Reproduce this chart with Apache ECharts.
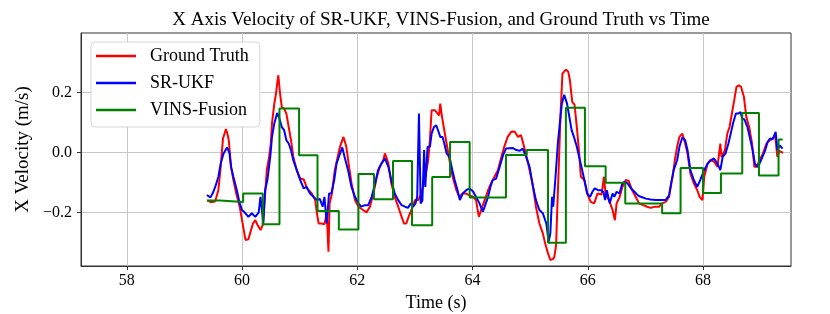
<!DOCTYPE html>
<html>
<head>
<meta charset="utf-8">
<script src="https://cdn.jsdelivr.net/npm/echarts@6/dist/echarts.min.js"></script>
<style>html,body{margin:0;padding:0;background:#fff;}#c{width:830px;height:314px;}</style>
</head>
<body>
<div id="c"></div>
<script>
const xTicks = [58, 60, 62, 64, 66, 68];
const yTicks = [-0.2, 0.0, 0.2];

const gtTime = [59.40,59.45,59.50,59.535,59.59,59.63,59.67,59.70,59.72,59.75,59.77,59.81,59.85,59.90,59.96,60.00,60.06,60.11,60.14,60.19,60.23,60.27,60.32,60.36,60.385,60.41,60.43,60.47,60.50,60.52,60.56,60.59,60.61,60.63,60.66,60.69,60.73,60.77,60.81,60.85,60.89,60.95,61.01,61.07,61.13,61.21,61.27,61.30,61.33,61.38,61.43,61.47,61.50,61.52,61.56,61.61,61.66,61.70,61.76,61.81,61.85,61.90,61.96,62.02,62.10,62.16,62.22,62.28,62.34,62.39,62.45,62.48,62.54,62.59,62.65,62.71,62.77,62.81,62.85,62.89,62.94,63.00,63.06,63.11,63.17,63.23,63.26,63.29,63.35,63.37,63.42,63.44,63.47,63.50,63.54,63.59,63.63,63.67,63.72,63.77,63.83,63.89,63.95,64.01,64.06,64.11,64.15,64.21,64.27,64.32,64.38,64.44,64.50,64.55,64.61,64.67,64.73,64.79,64.84,64.88,64.94,64.99,65.05,65.10,65.16,65.22,65.26,65.31,65.35,65.40,65.42,65.45,65.47,65.50,65.53,65.56,65.62,65.66,65.69,65.73,65.77,65.81,65.85,65.88,65.94,65.99,66.05,66.11,66.17,66.24,66.28,66.31,66.37,66.43,66.47,66.50,66.55,66.60,66.66,66.71,66.77,66.83,66.89,66.95,67.03,67.09,67.16,67.24,67.29,67.35,67.41,67.45,67.48,67.51,67.55,67.59,67.64,67.69,67.73,67.78,67.84,67.90,67.94,67.99,68.02,68.08,68.13,68.19,68.25,68.30,68.32,68.38,68.42,68.46,68.51,68.54,68.58,68.62,68.66,68.71,68.75,68.80,68.85,68.89,68.93,68.98,69.04,69.10,69.16,69.20,69.25,69.29,69.32,69.39];
const gtVel = [-0.160,-0.165,-0.165,-0.163,-0.125,-0.048,0.047,0.065,0.078,0.060,0.041,-0.048,-0.092,-0.137,-0.181,-0.226,-0.292,-0.290,-0.270,-0.237,-0.226,-0.242,-0.259,-0.242,-0.180,-0.115,-0.059,-0.015,0.030,0.097,0.163,0.197,0.230,0.258,0.197,0.152,0.147,0.130,0.085,0.041,-0.015,-0.059,-0.087,-0.090,-0.120,-0.137,-0.159,-0.203,-0.237,-0.237,-0.240,-0.203,-0.331,-0.170,-0.137,-0.059,-0.015,0.019,0.052,0.019,-0.037,-0.103,-0.159,-0.181,-0.192,-0.200,-0.181,-0.137,-0.081,-0.048,-0.026,-0.003,-0.037,-0.103,-0.148,-0.181,-0.215,-0.237,-0.237,-0.215,-0.192,-0.159,-0.159,-0.137,-0.092,-0.026,0.041,0.141,0.141,0.141,0.124,0.163,0.119,0.085,0.041,-0.015,-0.059,-0.092,-0.126,-0.148,-0.137,-0.137,-0.143,-0.148,-0.159,-0.215,-0.192,-0.159,-0.126,-0.103,-0.081,-0.059,-0.015,0.019,0.052,0.069,0.070,0.052,0.058,0.030,-0.015,-0.059,-0.115,-0.181,-0.237,-0.270,-0.303,-0.337,-0.359,-0.355,-0.348,-0.309,-0.192,-0.026,0.141,0.263,0.277,0.270,0.241,0.169,0.160,0.085,-0.003,-0.081,-0.092,-0.137,-0.165,-0.170,-0.137,-0.140,-0.081,-0.140,-0.159,-0.192,-0.226,-0.170,-0.150,-0.115,-0.092,-0.095,-0.126,-0.148,-0.170,-0.175,-0.181,-0.185,-0.181,-0.181,-0.170,-0.165,-0.148,-0.103,-0.070,-0.026,0.019,0.052,0.063,0.030,-0.003,-0.070,-0.103,-0.126,-0.148,-0.159,-0.081,-0.037,-0.026,-0.030,-0.048,0.030,-0.015,0.008,0.063,0.085,0.141,0.174,0.219,0.224,0.219,0.185,0.119,0.085,0.030,-0.048,-0.048,-0.026,-0.003,0.030,0.041,0.045,0.058,-0.015,0.005,-0.001];

const ukfTime = [59.39,59.45,59.49,59.535,59.59,59.63,59.68,59.74,59.78,59.81,59.85,59.91,59.96,60.00,60.06,60.11,60.17,60.23,60.29,60.32,60.35,60.37,60.40,60.44,60.49,60.52,60.56,60.61,60.65,60.69,60.73,60.77,60.81,60.85,60.89,60.95,61.01,61.07,61.12,61.18,61.24,61.30,61.35,61.40,61.43,61.47,61.51,61.55,61.60,61.64,61.68,61.74,61.78,61.84,61.90,61.96,62.02,62.07,62.13,62.19,62.25,62.31,62.36,62.42,62.48,62.54,62.59,62.65,62.71,62.77,62.83,62.88,62.93,62.97,63.01,63.04,63.07,63.10,63.13,63.16,63.18,63.22,63.26,63.29,63.33,63.37,63.40,63.44,63.48,63.51,63.55,63.60,63.65,63.69,63.74,63.78,63.83,63.89,63.95,64.01,64.06,64.12,64.18,64.23,64.27,64.31,64.35,64.41,64.47,64.53,64.58,64.64,64.70,64.76,64.82,64.87,64.93,64.99,65.05,65.10,65.16,65.22,65.28,65.32,65.35,65.38,65.40,65.42,65.44,65.46,65.48,65.52,65.55,65.59,65.64,65.68,65.72,65.76,65.81,65.85,65.89,65.94,65.99,66.04,66.08,66.12,66.18,66.23,66.27,66.30,66.33,66.38,66.43,66.46,66.50,66.55,66.60,66.64,66.69,66.75,66.81,66.87,66.92,67.01,67.09,67.18,67.27,67.35,67.41,67.44,67.49,67.55,67.59,67.64,67.69,67.73,67.78,67.84,67.90,67.95,68.02,68.08,68.13,68.19,68.25,68.30,68.34,68.39,68.44,68.48,68.52,68.57,68.61,68.65,68.68,68.72,68.77,68.81,68.86,68.90,68.94,68.98,69.03,69.08,69.12,69.16,69.21,69.26,69.29,69.33,69.38];
const ukfVel = [-0.142,-0.150,-0.137,-0.115,-0.081,-0.037,-0.003,0.017,0.000,-0.048,-0.081,-0.126,-0.170,-0.192,-0.203,-0.215,-0.203,-0.215,-0.200,-0.148,-0.200,-0.237,-0.126,-0.092,-0.015,0.052,0.097,0.132,0.113,0.085,0.075,0.041,0.030,0.008,-0.026,-0.059,-0.092,-0.120,-0.115,-0.137,-0.148,-0.159,-0.155,-0.181,-0.148,-0.237,-0.137,-0.137,-0.092,-0.037,-0.015,0.017,-0.015,-0.059,-0.115,-0.148,-0.170,-0.181,-0.176,-0.176,-0.148,-0.103,-0.059,-0.037,-0.020,-0.048,-0.092,-0.137,-0.159,-0.176,-0.181,-0.185,-0.170,-0.181,-0.170,-0.148,0.130,-0.170,-0.160,0.008,-0.115,0.019,0.019,0.063,0.085,0.091,0.075,0.052,0.052,0.030,-0.003,-0.015,-0.059,-0.092,-0.126,-0.159,-0.137,-0.126,-0.120,-0.130,-0.148,-0.170,-0.198,-0.170,-0.148,-0.115,-0.092,-0.087,-0.048,-0.009,0.013,0.014,0.015,0.008,0.006,0.013,-0.015,-0.048,-0.115,-0.159,-0.192,-0.203,-0.237,-0.298,-0.270,-0.148,-0.181,-0.181,-0.081,-0.026,0.030,0.108,0.163,0.193,0.163,0.119,0.074,0.052,0.019,-0.015,-0.048,-0.092,-0.137,-0.148,-0.131,-0.120,-0.126,-0.126,-0.131,-0.159,-0.126,-0.170,-0.137,-0.148,-0.131,-0.137,-0.103,-0.098,-0.103,-0.120,-0.131,-0.143,-0.148,-0.154,-0.157,-0.159,-0.159,-0.159,-0.143,-0.109,-0.059,-0.026,0.019,0.050,0.041,0.008,-0.059,-0.092,-0.115,-0.092,-0.059,-0.037,-0.026,-0.020,-0.037,-0.059,-0.015,-0.003,0.030,0.063,0.097,0.130,0.130,0.135,0.113,0.110,0.085,0.052,0.008,-0.037,-0.048,-0.037,-0.015,0.008,0.035,0.047,0.045,0.069,0.008,0.024,0.013];

const vinsTime = [59.39,59.62,60.02,60.36,60.65,60.99,61.31,61.68,62.02,62.29,62.62,62.95,63.30,63.61,63.95,64.58,64.94,65.31,65.62,65.95,66.31,66.65,67.29,67.61,68.00,68.31,68.68,68.97,69.31,69.38];
const vinsVel = [-0.160,-0.165,-0.137,-0.240,0.147,-0.009,-0.195,-0.257,-0.072,-0.156,-0.028,-0.243,-0.082,0.035,-0.150,-0.008,0.008,-0.301,0.149,-0.046,-0.101,-0.170,-0.203,-0.052,-0.135,-0.070,0.132,-0.077,0.043,0.043];

const pairs = (t, v) => t.map((x, i) => [x, v[i]]);
const FONT = '"Liberation Serif", "DejaVu Serif", serif';
const fmtY = v => (v < 0 ? '\u2212' : '') + Math.abs(v).toFixed(1);

const chart = echarts.init(document.getElementById('c'), null, {renderer: 'canvas'});
chart.setOption({
  animation: false,
  backgroundColor: '#ffffff',
  title: {
    text: 'X Axis Velocity of SR-UKF, VINS-Fusion, and Ground Truth vs Time',
    left: 436, top: 6, textAlign: 'center',
    textStyle: {fontFamily: FONT, fontSize: 19, fontWeight: 'normal', color: '#000'}
  },
  grid: {left: 81, right: 39, top: 33, bottom: 48, show: true, borderColor: '#333', borderWidth: 1,
         containLabel: false, outerBoundsMode: 'none'},
  legend: {
    orient: 'vertical', left: 91, top: 42,
    icon: 'rect', itemWidth: 40, itemHeight: 2.5, itemGap: 7,
    padding: [4, 11, 7, 5],
    backgroundColor: '#ffffff', borderColor: '#d5d5d5', borderWidth: 1, borderRadius: 4,
    textStyle: {fontFamily: FONT, fontSize: 18, color: '#000', lineHeight: 20, padding: [0, 0, 0, 9]},
    data: ['Ground Truth', 'SR-UKF', 'VINS-Fusion']
  },
  xAxis: {
    type: 'value', min: 57.206, max: 69.526,
    name: 'Time (s)', nameLocation: 'middle', nameGap: 24,
    nameTextStyle: {fontFamily: FONT, fontSize: 18, color: '#000'},
    axisLine: {show: true, onZero: false, lineStyle: {color: '#333'}},
    axisTick: {show: true, inside: false, length: 4, lineStyle: {color: '#333'}, customValues: xTicks},
    axisLabel: {fontFamily: FONT, fontSize: 16, color: '#000', margin: 7, customValues: xTicks, formatter: v => String(Math.round(v))},
    splitLine: {show: true, lineStyle: {color: '#c8c8c8', width: 1}}
  },
  yAxis: {
    type: 'value', min: -0.379, max: 0.399,
    name: 'X Velocity (m/s)', nameLocation: 'middle', nameGap: 38, nameRotate: 90,
    nameTextStyle: {fontFamily: FONT, fontSize: 19, color: '#000'},
    axisLine: {show: true, onZero: false, lineStyle: {color: '#333'}},
    axisTick: {show: true, inside: false, length: 4, lineStyle: {color: '#333'}, customValues: yTicks},
    axisLabel: {fontFamily: FONT, fontSize: 16, color: '#000', margin: 9, customValues: yTicks, formatter: fmtY},
    splitLine: {show: true, lineStyle: {color: '#c8c8c8', width: 1}}
  },
  series: [
    {name: 'Ground Truth', type: 'line', data: pairs(gtTime, gtVel), showSymbol: false, symbol: 'none',
     lineStyle: {color: '#ff0000', width: 2}, itemStyle: {color: '#ff0000'}, clip: true},
    {name: 'SR-UKF', type: 'line', data: pairs(ukfTime, ukfVel), showSymbol: false, symbol: 'none',
     lineStyle: {color: '#0000ff', width: 2}, itemStyle: {color: '#0000ff'}, clip: true},
    {name: 'VINS-Fusion', type: 'line', step: 'end', data: pairs(vinsTime, vinsVel), showSymbol: false, symbol: 'none',
     lineStyle: {color: '#008000', width: 2}, itemStyle: {color: '#008000'}, clip: true}
  ]
});
</script>
</body>
</html>
